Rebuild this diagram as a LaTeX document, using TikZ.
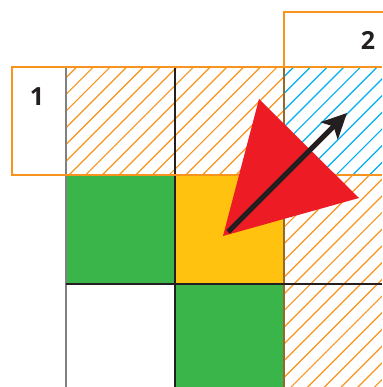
\documentclass[tikz,border=0pt]{standalone}
\usepackage{fontspec}
\newfontfamily\numfont{Open Sans}
\usetikzlibrary{arrows.meta}
\definecolor{orng}{RGB}{247,148,29}
\definecolor{grn}{RGB}{57,181,74}
\definecolor{yel}{RGB}{255,194,14}
\definecolor{redc}{RGB}{237,28,36}
\definecolor{bluec}{RGB}{0,174,239}
\definecolor{darkc}{RGB}{35,31,32}
\definecolor{brownc}{RGB}{150,105,40}
\tikzset{
  hatchline/.style={line width=1.2pt},
  gridline/.style={darkc, line width=1.3pt},
  orline/.style={orng, line width=1.6pt},
  numlabel/.style={font=\numfont\bfseries\fontsize{25}{25}\selectfont, text=darkc, inner sep=0pt}
}
\begin{document}
\begin{tikzpicture}[x=1pt,y=-1pt]
\useasboundingbox (0,0) rectangle (382,387);
% fills
\fill[grn] (66,175) rectangle (175,284);
\fill[yel] (175,175) rectangle (284,284);
\fill[grn] (175,284) rectangle (284,387);
% orange hatching
\begin{scope}
  \clip (66,67) rectangle (284,175) (284,175) rectangle (382,387);
  \foreach \k in {-1,...,39}
    \draw[orng, hatchline] ({143.7+16.7*\k},0) -- ++(-400,400);
\end{scope}
% blue hatching
\begin{scope}
  \clip (284,67) rectangle (382,175);
  \foreach \k in {-1,...,39}
    \draw[bluec, hatchline] ({143.7+16.7*\k},0) -- ++(-400,400);
\end{scope}
% grid lines
\draw[gray, line width=1.3pt] (66,67) -- (66,387);
\draw[gridline] (175,67) -- (175,387);
\draw[brownc, line width=1.3pt] (284,67) -- (284,387);
\draw[gridline] (66,284) -- (382,284);
% orange lines and boxes
\draw[orline] (12,67) -- (382,67);
\draw[orline] (12,175) -- (382,175);
\draw[orline] (66,67) -- (12,67) -- (12,175) -- (66,175);
\draw[orline] (284,67) -- (284,12) -- (383,12);
% labels
\node[numlabel] (n1) at (37,97) {1};
\node[numlabel] (n2) at (368,40) {2};
% red triangle
\fill[redc] (259,99) -- (359,198) -- (223,236) -- cycle;
% arrow
\coordinate (a0) at (228,232);
\coordinate (a1) at (347,113);
\draw[darkc, line width=5pt, -{Stealth[length=25pt,width=24pt,inset=6pt]}] (a0) -- (a1);
\end{tikzpicture}
\end{document}
